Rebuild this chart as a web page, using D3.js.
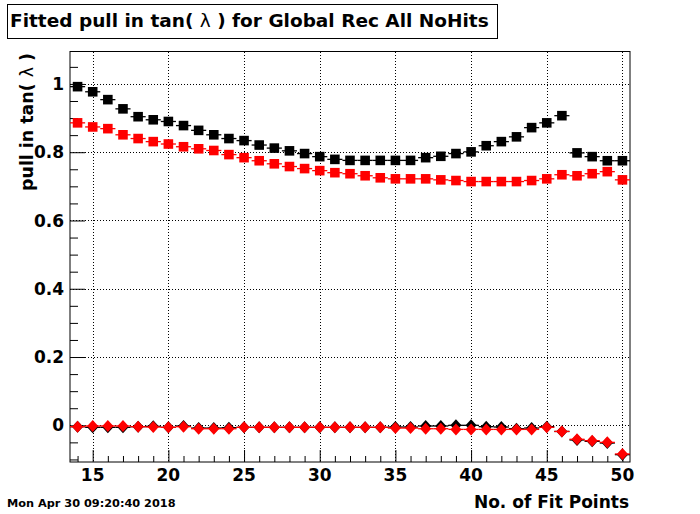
<!DOCTYPE html>
<html>
<head>
<meta charset="utf-8">
<script src="https://cdn.jsdelivr.net/npm/d3@7"></script>
<style>
  html, body { margin: 0; padding: 0; background: #fff; }
  svg { display: block; }
  text { font-family: "DejaVu Sans", sans-serif; font-weight: bold; fill: #000; }
  tspan.sym { font-weight: normal; }
</style>
</head>
<body>
<script>
// ---------------- data ----------------
const fitPoints = [14,15,16,17,18,19,20,21,22,23,24,25,26,27,28,29,30,31,32,33,34,35,36,37,38,39,40,41,42,43,44,45,46,47,48,49,50];

const pullBlack = [0.992,0.977,0.954,0.927,0.904,0.895,0.890,0.878,0.864,0.851,0.840,0.834,0.821,0.812,0.804,0.796,0.787,0.779,0.776,
                   0.776,0.776,0.776,0.776,0.784,0.788,0.796,0.801,0.819,0.831,0.845,0.872,0.886,0.907,0.798,0.787,0.775,0.775];

const pullRed = [0.886,0.874,0.869,0.851,0.840,0.831,0.824,0.816,0.810,0.805,0.793,0.784,0.775,0.766,0.758,0.752,0.746,0.740,0.737,
                 0.731,0.725,0.722,0.722,0.722,0.719,0.717,0.714,0.714,0.714,0.714,0.717,0.722,0.734,0.731,0.737,0.743,0.719];

const meanBlack = [-0.004,-0.006,-0.006,-0.006,-0.004,-0.003,-0.006,-0.002,-0.008,-0.008,-0.007,-0.006,-0.006,-0.006,-0.006,-0.006,-0.006,-0.006,-0.006,
                   -0.006,-0.006,-0.005,-0.005,-0.002,-0.002,0.000,0.000,-0.004,-0.005,-0.010,-0.008,-0.004,-0.018,-0.043,-0.047,-0.052,-0.086];

const meanRed = [-0.004,-0.002,-0.002,-0.002,-0.004,-0.005,-0.006,-0.004,-0.010,-0.010,-0.010,-0.006,-0.006,-0.006,-0.006,-0.006,-0.006,-0.006,-0.006,
                 -0.006,-0.006,-0.008,-0.008,-0.010,-0.010,-0.012,-0.012,-0.012,-0.012,-0.012,-0.012,-0.006,-0.018,-0.041,-0.045,-0.050,-0.084];

const xMajorTicks = [15,20,25,30,35,40,45,50];
const yMajorTicks = [0,0.2,0.4,0.6,0.8,1];
const yTickLabels = ["0","0.2","0.4","0.6","0.8","1"];

const titleParts = ["Fitted pull in tan( ", "\u03bb", " ) for Global Rec All NoHits"];
const yTitleParts = ["pull in tan( ", "\u03bb", " )"];
const xTitle = "No. of Fit Points";
const dateText = "Mon Apr 30 09:20:40 2018";

// ---------------- layout ----------------
const W = 700, H = 514;
const L = 70, R = 630, T = 51.5, B = 462;

const svg = d3.select("body").append("svg").attr("width", W).attr("height", H);

const x = d3.scaleLinear().domain([13.5, 50.5]).range([L, R]);
const y = d3.scaleLinear().domain([-0.1075, 1.095]).range([B, T]);

// grid
const grid = svg.append("g").attr("stroke", "#000").attr("stroke-width", 1).attr("stroke-dasharray", "1,2").attr("shape-rendering", "crispEdges");
grid.selectAll("line.gx").data(xMajorTicks).enter().append("line")
  .attr("x1", d => Math.round(x(d)) + 0.5).attr("x2", d => Math.round(x(d)) + 0.5)
  .attr("y1", T).attr("y2", B);
grid.selectAll("line.gy").data(yMajorTicks).enter().append("line")
  .attr("x1", L).attr("x2", R)
  .attr("y1", d => Math.round(y(d)) + 0.5).attr("y2", d => Math.round(y(d)) + 0.5);

// axes
const xMinor = d3.range(14, 51, 1).filter(v => !xMajorTicks.includes(v));
const xAxisMajor = d3.axisBottom(x).tickValues(xMajorTicks).tickSize(-12).tickFormat("");
const xAxisMinor = d3.axisBottom(x).tickValues(xMinor).tickSize(-6).tickFormat("");
const gxMaj = svg.append("g").attr("transform", `translate(0,${B})`).call(xAxisMajor);
const gxMin = svg.append("g").attr("transform", `translate(0,${B})`).call(xAxisMinor);
[gxMaj, gxMin].forEach(g => { g.select(".domain").remove(); g.selectAll("line").attr("stroke", "#000"); });

const yMinorVals = [-0.1,-0.05,0.05,0.1,0.15,0.25,0.3,0.35,0.45,0.5,0.55,0.65,0.7,0.75,0.85,0.9,0.95,1.05];
const yAxisMajor = d3.axisLeft(y).tickValues(yMajorTicks).tickSize(-15).tickFormat("");
const yAxisMinor = d3.axisLeft(y).tickValues(yMinorVals).tickSize(-8).tickFormat("");
const gyMaj = svg.append("g").attr("transform", `translate(${L},0)`).call(yAxisMajor);
const gyMin = svg.append("g").attr("transform", `translate(${L},0)`).call(yAxisMinor);
[gyMaj, gyMin].forEach(g => { g.select(".domain").remove(); g.selectAll("line").attr("stroke", "#000"); });

// tick labels
svg.append("g").selectAll("text").data(xMajorTicks).enter().append("text")
  .attr("x", d => x(d)).attr("y", 480.7).attr("text-anchor", "middle")
  .style("font-size", "17px").text(d => d);
svg.append("g").selectAll("text").data(yMajorTicks).enter().append("text")
  .attr("x", 64).attr("y", d => y(d)).attr("dy", "0.36em").attr("text-anchor", "end")
  .style("font-size", "17px").text((d, i) => yTickLabels[i]);

// frame
svg.append("rect").attr("x", L).attr("y", T).attr("width", R - L).attr("height", B - T)
  .attr("fill", "none").attr("stroke", "#000").attr("stroke-width", 1);

// data series
const diamondPath = "M0,-6L5.5,0L0,6L-5.5,0Z";
function drawSeries(vals, color, shape) {
  const g = svg.append("g");
  const data = fitPoints.map((p, i) => ({ p, v: vals[i] }));
  g.selectAll("line").data(data).enter().append("line")
    .attr("x1", d => x(d.p - 0.5)).attr("x2", d => x(d.p + 0.5))
    .attr("y1", d => y(d.v)).attr("y2", d => y(d.v))
    .attr("stroke", color).attr("stroke-width", 1.3);
  const sym = d3.symbol().type(d3.symbolSquare).size(92);
  g.selectAll("path").data(data).enter().append("path")
    .attr("transform", d => `translate(${x(d.p)},${y(d.v)})`)
    .attr("d", shape === "square" ? sym : diamondPath).attr("fill", color);
}
drawSeries(pullBlack, "#000000", "square");
drawSeries(pullRed, "#ff0000", "square");
drawSeries(meanBlack, "#000000", "diamond");
drawSeries(meanRed, "#ff0000", "diamond");

// title box
svg.append("rect").attr("x", 7.5).attr("y", 4.5).attr("width", 490).attr("height", 34)
  .attr("fill", "#fff").attr("stroke", "#000").attr("stroke-width", 1);
function partsText(sel, parts) {
  parts.forEach((p, i) => sel.append("tspan").attr("class", i === 1 ? "sym" : null).text(p));
  return sel;
}
partsText(svg.append("text").attr("x", 10).attr("y", 26.7).style("font-size", "18.5px"), titleParts);

// axis titles
partsText(svg.append("text").attr("transform", "translate(33,53) rotate(-90)").attr("text-anchor", "end")
  .style("font-size", "17.4px"), yTitleParts);
svg.append("text").attr("x", 629).attr("y", 508.3).attr("text-anchor", "end")
  .style("font-size", "17px").text(xTitle);

// date stamp
svg.append("text").attr("x", 7).attr("y", 506.7).style("font-size", "11.3px").text(dateText);
</script>
</body>
</html>
